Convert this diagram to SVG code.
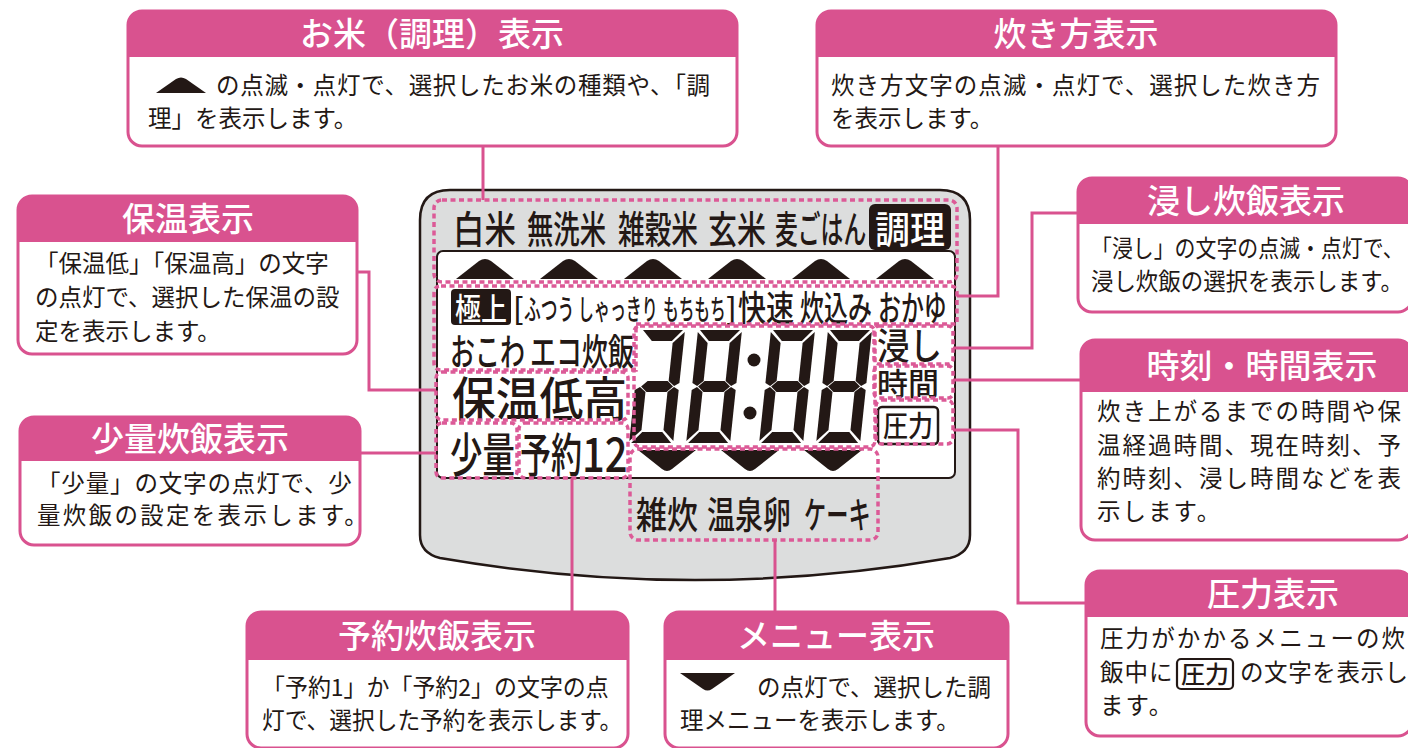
<svg xmlns="http://www.w3.org/2000/svg" width="1408" height="748" viewBox="0 0 1408 748">
<style>
  .hd{fill:#d9528f}
  .bx{fill:none;stroke:#d9528f;stroke-width:3}
  .tt{font-family:"Noto Sans CJK JP",sans-serif;font-weight:500;font-size:33px;fill:#fff;text-anchor:middle}
  .bd{font-family:"Noto Sans CJK JP",sans-serif;font-weight:400;font-size:23.5px;fill:#231815}
  .lcd{font-family:"Noto Sans CJK JP",sans-serif;font-weight:500;fill:#231815}
  .lcdw{font-family:"Noto Sans CJK JP",sans-serif;font-weight:500;fill:#fff}
  .dot{fill:none;stroke:#dc5a97;stroke-width:3.5;stroke-dasharray:5 3.5}
  .con{fill:none;stroke:#d9528f;stroke-width:3}
  .blk{fill:#231815}
</style>
<defs>
  <g id="seg">
    <path d="M2,0H42L32,11H12Z"/>
    <path d="M44,2V53L39,56L33,51V13Z"/>
    <path d="M44,60V111L33,100V62L39,57Z"/>
    <path d="M2,113H42L32,102H12Z"/>
    <path d="M0,60V111L11,100V62L5,57Z"/>
    <path d="M6,56.5L12,51H32L38,56.5L32,62H12Z"/>
  </g>
  <g id="digit8">
    <use href="#seg"/>
    <path d="M0,2V53L5,56L11,51V13Z"/>
  </g>
  <path id="up" d="M-29,20L-6,2Q0,-2 6,2L29,20Z"/>
  <path id="dn" d="M-29,0H29L5,19Q0,23 -5,19Z"/>
</defs>

<!-- LCD housing -->
<g id="lcd-housing">
  <path d="M450,190H940Q970,190 970,220V535Q970,553 950,558Q695,602 440,558Q420,553 420,535V220Q420,190 450,190Z" fill="#dcdddd" stroke="#231815" stroke-width="2.5"/>
  <rect x="437" y="251" width="518" height="227" rx="6" fill="#fff" stroke="#231815" stroke-width="2"/>
</g>

<!-- LCD contents -->
<g id="lcd-rice">
  <text class="lcd" font-size="38" transform="translate(453,243) scale(0.829,1)">白米</text>
  <text class="lcd" font-size="38" transform="translate(527,243) scale(0.693,1)">無洗米</text>
  <text class="lcd" font-size="38" transform="translate(618,243) scale(0.702,1)">雑穀米</text>
  <text class="lcd" font-size="38" transform="translate(708,243) scale(0.763,1)">玄米</text>
  <text class="lcd" font-size="38" transform="translate(775,243) scale(0.6,1)">麦ごはん</text>
  <rect x="869" y="204" width="82" height="46" rx="6" class="blk"/>
  <text class="lcdw" font-size="38" transform="translate(875,243) scale(0.921,1)">調理</text>
  <use href="#up" x="485" y="259" class="blk"/>
  <use href="#up" x="569" y="259" class="blk"/>
  <use href="#up" x="653" y="259" class="blk"/>
  <use href="#up" x="737" y="259" class="blk"/>
  <use href="#up" x="821" y="259" class="blk"/>
  <use href="#up" x="905" y="259" class="blk"/>
</g>

<g id="lcd-cook">
  <rect x="451" y="289" width="60" height="36" rx="4" class="blk"/>
  <text class="lcdw" font-size="31" transform="translate(455,320) scale(0.839,1)">極上</text>
  <text class="lcd" font-size="30" x="513" y="320">[</text>
  <text class="lcd" font-size="28" transform="translate(524,320) scale(0.6,1)">ふつう</text>
  <text class="lcd" font-size="28" transform="translate(578,320) scale(0.57,1)">しゃっきり</text>
  <text class="lcd" font-size="28" transform="translate(663,320) scale(0.56,1)">もちもち</text>
  <text class="lcd" font-size="30" x="726" y="320">]</text>
  <text class="lcd" font-size="35" transform="translate(738,321) scale(0.8,1)">快速</text>
  <text class="lcd" font-size="35" transform="translate(800,321) scale(0.686,1)">炊込み</text>
  <text class="lcd" font-size="35" transform="translate(878,321) scale(0.655,1)">おかゆ</text>
  <text class="lcd" font-size="37" transform="translate(450,366) scale(0.675,1)">おこわ</text>
  <text class="lcd" font-size="37" transform="translate(530,366) scale(0.703,1)">エコ炊飯</text>
</g>

<g id="lcd-keep">
  <text class="lcd" font-size="47" transform="translate(452,416) scale(0.931,1)">保温低高</text>
  <text class="lcd" font-size="47" transform="translate(450,472) scale(0.691,1)">少量</text>
  <text class="lcd" font-size="47" transform="translate(520,472) scale(0.66,1)">予約</text>
  <text class="lcd" font-size="47" transform="translate(582,472) scale(0.85,1)">12</text>
</g>

<g id="lcd-digits" class="blk">
  <use href="#seg" transform="translate(641,330) skewX(-6)"/>
  <use href="#digit8" transform="translate(698,330) skewX(-6)"/>
  <use href="#digit8" transform="translate(771,330) skewX(-6)"/>
  <use href="#digit8" transform="translate(828,330) skewX(-6)"/>
  <circle cx="754" cy="360" r="6.5"/>
  <circle cx="750" cy="413" r="6.5"/>
  <use href="#dn" x="667" y="450"/>
  <use href="#dn" x="750" y="450"/>
  <use href="#dn" x="833" y="450"/>
</g>

<g id="lcd-right">
  <text class="lcd" font-size="37" transform="translate(877,360) scale(0.878,1)">浸し</text>
  <text class="lcd" font-size="31" x="877" y="395">時間</text>
  <rect x="878" y="407" width="60" height="37" rx="4" fill="#fff" stroke="#231815" stroke-width="2.5"/>
  <text class="lcd" font-size="29" transform="translate(883,437) scale(0.862,1)">圧力</text>
</g>

<g id="lcd-menu">
  <text class="lcd" font-size="37" transform="translate(636,529) scale(0.838,1)">雑炊</text>
  <text class="lcd" font-size="37" transform="translate(707,529) scale(0.757,1)">温泉卵</text>
  <text class="lcd" font-size="37" transform="translate(804,529) scale(0.6,1)">ケーキ</text>
</g>

<!-- dotted highlight regions -->
<g id="highlights">
  <rect class="dot" x="434" y="200" width="523" height="82" rx="8"/>
  <path class="dot" d="M441,286H950Q957,286 957,293V324H636V370H441Q434,370 434,363V293Q434,286 441,286Z"/>
  <rect class="dot" x="634" y="326" width="241" height="121" rx="6"/>
  <rect class="dot" x="630" y="449" width="248" height="91" rx="8"/>
  <rect class="dot" x="874" y="326" width="79" height="38" rx="5"/>
  <rect class="dot" x="874" y="366" width="79" height="32" rx="5"/>
  <rect class="dot" x="876" y="400" width="77" height="44" rx="6"/>
  <rect class="dot" x="436" y="372" width="192" height="48" rx="6"/>
  <rect class="dot" x="436" y="423" width="81" height="55" rx="6"/>
  <rect class="dot" x="519" y="423" width="109" height="55" rx="6"/>
</g>

<!-- connectors -->
<g id="connectors">
  <path class="con" d="M483,146V200"/>
  <path class="con" d="M998,146V296H957"/>
  <path class="con" d="M953,348H1032V213H1078"/>
  <path class="con" d="M953,380H1081"/>
  <path class="con" d="M953,430H1018V603H1086"/>
  <path class="con" d="M357,272H369V390H436"/>
  <path class="con" d="M360,453H436"/>
  <path class="con" d="M572,478V612"/>
  <path class="con" d="M775,540V612"/>
</g>

<!-- callouts -->
<g id="callout-rice">
  <path class="hd" d="M128,57V25Q128,11 142,11H723Q737,11 737,25V57Z"/>
  <rect class="bx" x="128" y="11" width="609" height="135" rx="14"/>
  <text class="tt" font-size="31" x="432" y="46">お米（調理）表示</text>
  <path class="blk" d="M156,93L176,79Q181,76 186,79L206,93Z"/>
  <text class="bd" x="216" y="94" letter-spacing="0.7">の点滅・点灯で、選択したお米の種類や、「調</text>
  <text class="bd" x="148" y="127">理」を表示します。</text>
</g>

<g id="callout-cook">
  <path class="hd" d="M817,57V25Q817,11 831,11H1322Q1336,11 1336,25V57Z"/>
  <rect class="bx" x="817" y="11" width="519" height="135" rx="14"/>
  <text class="tt" x="1076" y="46">炊き方表示</text>
  <text class="bd" x="831" y="94" letter-spacing="1.05">炊き方文字の点滅・点灯で、選択した炊き方</text>
  <text class="bd" x="831" y="127">を表示します。</text>
</g>

<g id="callout-keep">
  <path class="hd" d="M18,242V210Q18,196 32,196H343Q357,196 357,210V242Z"/>
  <rect class="bx" x="18" y="196" width="339" height="158" rx="14"/>
  <text class="tt" x="188" y="231">保温表示</text>
  <text class="bd" x="35" y="272">「保温低」「保温高」の文字</text>
  <text class="bd" x="35" y="306">の点灯で、選択した保温の設</text>
  <text class="bd" x="35" y="340">定を表示します。</text>
</g>

<g id="callout-small">
  <path class="hd" d="M20,461V431Q20,417 34,417H346Q360,417 360,431V461Z"/>
  <rect class="bx" x="20" y="417" width="340" height="128" rx="14"/>
  <text class="tt" x="190" y="451">少量炊飯表示</text>
  <text class="bd" x="37" y="492" letter-spacing="0.85">「少量」の文字の点灯で、少</text>
  <text class="bd" x="37" y="524" letter-spacing="2.3">量炊飯の設定を表示します。</text>
</g>

<g id="callout-soak">
  <path class="hd" d="M1078,224V192Q1078,178 1092,178H1398Q1412,178 1412,192V224Z"/>
  <rect class="bx" x="1078" y="178" width="334" height="134" rx="14"/>
  <text class="tt" x="1246" y="213">浸し炊飯表示</text>
  <text class="bd" transform="translate(1091,257) scale(0.89,1)">「浸し」の文字の点滅・点灯で、</text>
  <text class="bd" transform="translate(1091,290) scale(0.955,1)">浸し炊飯の選択を表示します。</text>
</g>

<g id="callout-time">
  <path class="hd" d="M1081,392V354Q1081,340 1095,340H1398Q1412,340 1412,354V392Z"/>
  <rect class="bx" x="1081" y="340" width="331" height="200" rx="14"/>
  <text class="tt" x="1262" y="378">時刻・時間表示</text>
  <text class="bd" font-size="25" x="1097" y="420" letter-spacing="2">炊き上がるまでの時間や保</text>
  <text class="bd" font-size="25" x="1097" y="454" letter-spacing="2">温経過時間、現在時刻、予</text>
  <text class="bd" font-size="25" x="1097" y="487" letter-spacing="2">約時刻、浸し時間などを表</text>
  <text class="bd" font-size="25" x="1097" y="520" letter-spacing="2">示します。</text>
</g>

<g id="callout-pressure">
  <path class="hd" d="M1086,617V585Q1086,571 1100,571H1398Q1412,571 1412,585V617Z"/>
  <rect class="bx" x="1086" y="571" width="326" height="165" rx="14"/>
  <text class="tt" x="1273" y="606">圧力表示</text>
  <text class="bd" font-size="25" x="1100" y="647" letter-spacing="2.1">圧力がかかるメニューの炊</text>
  <text class="bd" font-size="25" x="1100" y="681" letter-spacing="1">飯中に</text>
  <rect x="1177" y="659" width="56" height="30" rx="4" fill="#fff" stroke="#231815" stroke-width="2.2"/>
  <text class="lcd" font-size="24" font-weight="700" x="1181" y="683">圧力</text>
  <text class="bd" font-size="25" x="1240" y="681" letter-spacing="0.6">の文字を表示し</text>
  <text class="bd" font-size="25" x="1100" y="714" letter-spacing="2">ます。</text>
</g>

<g id="callout-timer">
  <path class="hd" d="M247,660V626Q247,612 261,612H614Q628,612 628,626V660Z"/>
  <rect class="bx" x="247" y="612" width="381" height="136" rx="14"/>
  <text class="tt" x="437" y="648">予約炊飯表示</text>
  <text class="bd" font-size="24" transform="translate(262,696) scale(0.977,1)">「予約1」か「予約2」の文字の点</text>
  <text class="bd" font-size="24" transform="translate(262,729) scale(0.967,1)">灯で、選択した予約を表示します。</text>
</g>

<g id="callout-menu">
  <path class="hd" d="M665,660V626Q665,612 679,612H994Q1008,612 1008,626V660Z"/>
  <rect class="bx" x="665" y="612" width="343" height="136" rx="14"/>
  <text class="tt" x="836" y="648">メニュー表示</text>
  <path class="blk" d="M680,673H735L712,689Q707.5,692 703,689Z"/>
  <text class="bd" font-size="24" x="757" y="696">の点灯で、選択した調</text>
  <text class="bd" font-size="24" x="680" y="729">理メニューを表示します。</text>
</g>
</svg>
